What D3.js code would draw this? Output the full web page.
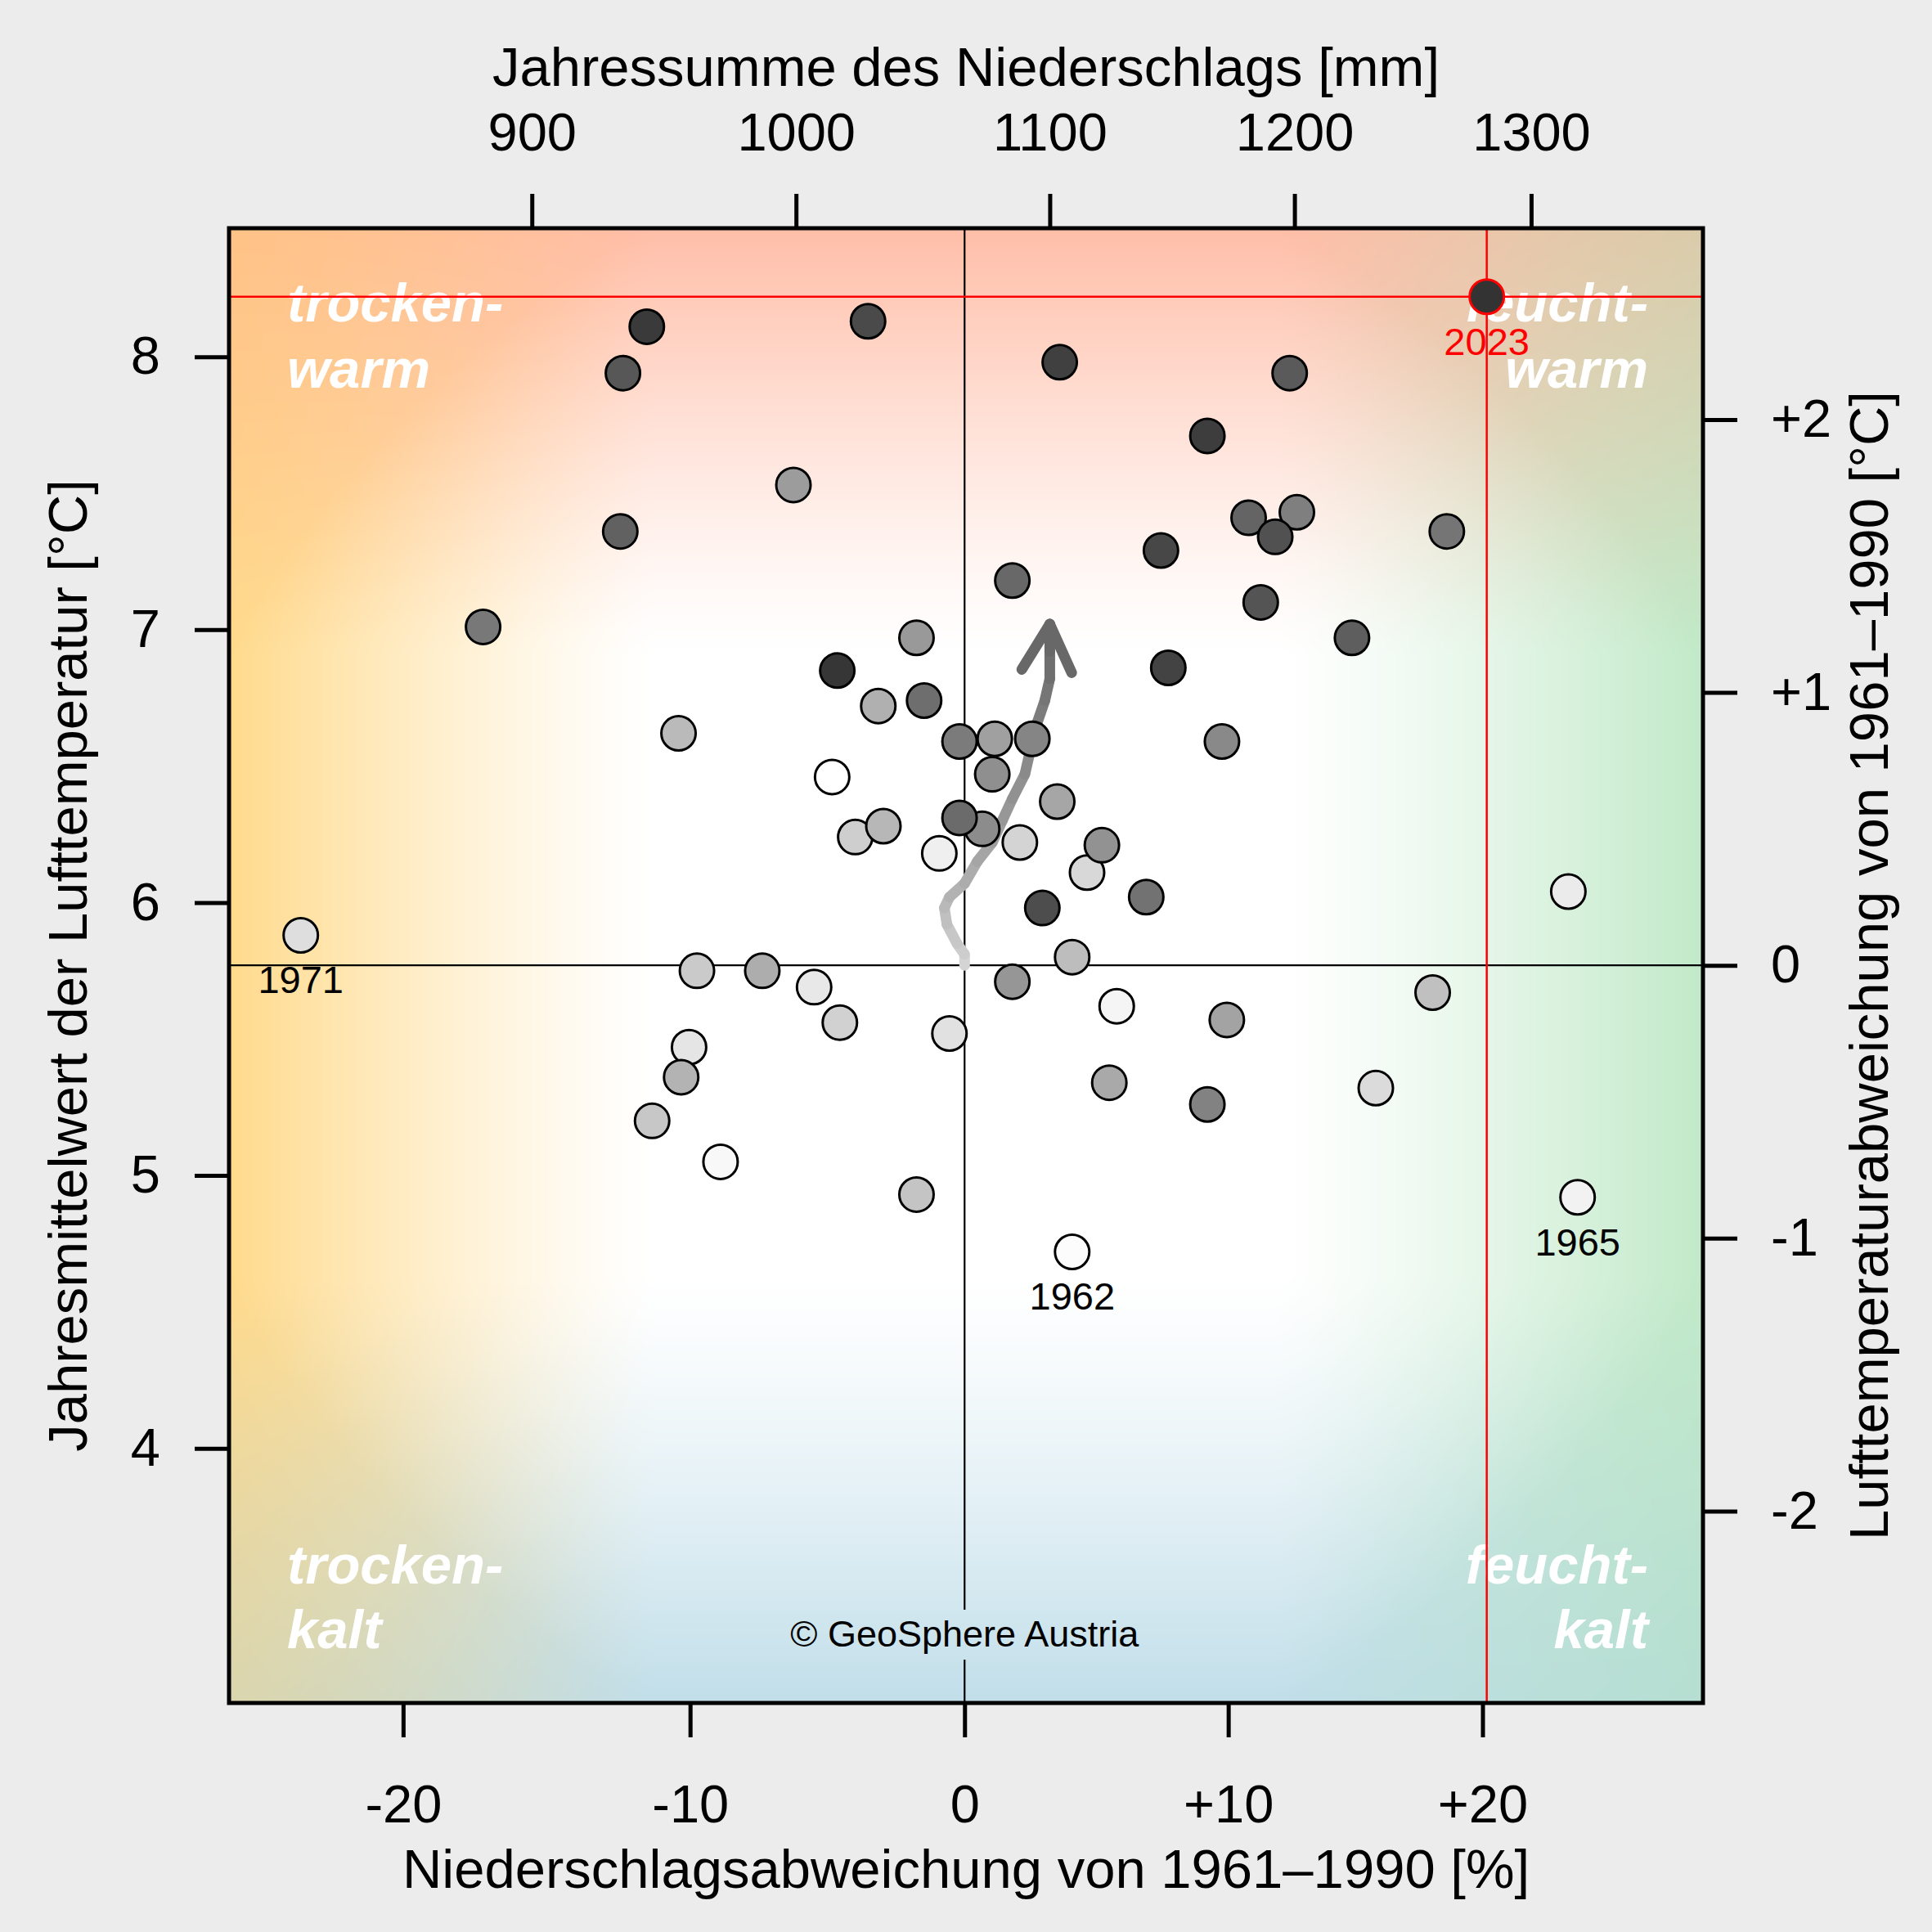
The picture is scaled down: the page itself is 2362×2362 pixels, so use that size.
<!DOCTYPE html>
<html>
<head>
<meta charset="utf-8">
<script src="https://cdn.jsdelivr.net/npm/d3@7"></script>
<style>
  body { margin: 0; background: #ececec; }
  svg { display: block; font-family: "Liberation Sans", Arial, Helvetica, sans-serif; }
</style>
</head>
<body>
<div id="chart"></div>
<script>
// annual means 1961-2023 (precipitation sum in mm, mean temperature in °C)
var years = d3.range(1961, 2024);
var precip = [1014, 1109, 971, 1127, 1320, 1056, 1316, 1007, 959, 1060,
              816, 1234, 1115, 1088, 1017, 1023, 962, 945, 1047, 1258,
              1109, 955, 1034, 956, 1032, 987, 1124, 1103, 1172, 1078,
              999, 1047, 1085, 1121, 1077, 1073, 1170, 1093, 1164, 1201,
              1064, 882, 1264, 1139, 1050, 1064, 1085, 1181, 933, 1224,
              1198, 934, 1186, 1192, 1097, 1028, 1145, 1148, 1104, 1164,
              943, 1016, 1281];
var temp = [6.46, 4.72, 5.05, 5.62, 4.92, 6.18, 6.04, 5.69, 5.47, 5.52,
            5.88, 5.32, 6.11, 6.22, 5.56, 6.24, 5.75, 5.20, 4.93, 5.67,
            5.80, 6.62, 6.28, 5.36, 6.72, 5.75, 5.34, 6.37, 5.57, 6.60,
            7.53, 6.97, 5.71, 6.21, 6.47, 6.27, 6.59, 6.60, 5.26, 7.43,
            6.59, 7.01, 7.36, 6.02, 6.74, 6.31, 7.18, 7.41, 7.36, 6.97,
            7.94, 7.94, 7.10, 7.34, 5.98, 8.13, 7.29, 6.86, 7.98, 7.71,
            8.11, 6.85, 8.22];

// path of the running mean (starts at the 1961-1990 mean)
var trendPrecip = [1066, 1066, 1063, 1059, 1058, 1060, 1066, 1071, 1077,
                   1081, 1085, 1090, 1092, 1095, 1098, 1100, 1100, 1100];
var trendTemp = [5.77, 5.81, 5.85, 5.92, 5.98, 6.02, 6.07, 6.15, 6.22,
                 6.30, 6.38, 6.47, 6.55, 6.66, 6.74, 6.82, 6.92, 7.02];

// 1961-1990 reference
var refPrecip = 1066, refTemp = 5.77;

var topTicks = [900, 1000, 1100, 1200, 1300];
var bottomTicks = [-20, -10, 0, 10, 20];
var leftTicks = [4, 5, 6, 7, 8];
var rightTicks = [-2, -1, 0, 1, 2];
var labelledYears = [1962, 1965, 1971];
var currentYear = 2023;

var W = 2362, H = 2362;
var margin = {top: 279, right: 280, bottom: 280, left: 280};
var x0 = margin.left, x1 = W - margin.right, y0 = margin.top, y1 = H - margin.bottom;

var x = d3.scalePow().exponent(0.6).domain([790.6, 1374.6]).range([x0, x1]);
var y = d3.scaleLinear().domain([3.067, 8.471]).range([y1, y0]);

var grey = d3.scaleLinear().domain([1961, 2023]).range(["#ffffff", "#333333"]);

var svg = d3.select("#chart").append("svg")
    .attr("width", W)
    .attr("height", H);

svg.append("rect").attr("width", W).attr("height", H).attr("fill", "#ececec");

// background: dry/wet left-right, warm/cold top-bottom
(function() {
  var cw = Math.round(x1 - x0), ch = Math.round(y1 - y0);
  var cx = x(refPrecip) - x0, cy = y(refTemp) - y0;
  var canvas = document.createElement("canvas");
  canvas.width = cw; canvas.height = ch;
  var ctx = canvas.getContext("2d");
  var img = ctx.createImageData(cw, ch);
  var dry = [0, 37, 115], wet = [62, 22, 55], warm = [0, 65, 87], cold = [62, 33, 22];
  function wgt(d) {
    var v = Math.max(0, Math.min(1, (d - 0.42) / 0.58));
    return Math.pow(v, 1.25);
  }
  for (var j = 0; j < ch; j++) {
    var dy = (j + 0.5 - cy) / (j < cy ? cy : ch - cy);
    var wy = wgt(Math.abs(dy));
    var cyc = dy < 0 ? warm : cold;
    for (var i = 0; i < cw; i++) {
      var dx = (i + 0.5 - cx) / (i < cx ? cx : cw - cx);
      var wx = wgt(Math.abs(dx));
      var cxc = dx < 0 ? dry : wet;
      var s = Math.pow(Math.max(1, wx + wy), 0.75);
      var k = (j * cw + i) * 4;
      for (var c = 0; c < 3; c++) {
        img.data[k + c] = 255 - (wx * cxc[c] + wy * cyc[c]) / s;
      }
      img.data[k + 3] = 255;
    }
  }
  ctx.putImageData(img, 0, 0);
  svg.append("image")
    .attr("x", x0).attr("y", y0)
    .attr("width", cw).attr("height", ch)
    .attr("preserveAspectRatio", "none")
    .attr("href", canvas.toDataURL());
})();

// quadrant labels
var quad = svg.append("g")
    .attr("fill", "#fff")
    .attr("font-size", 67)
    .attr("font-weight", "bold")
    .attr("font-style", "italic");
[["trocken-", x0 + 71, y0 + 114, "start"], ["warm", x0 + 71, y0 + 195, "start"],
 ["feucht-", x1 - 67, y0 + 114, "end"], ["warm", x1 - 67, y0 + 195, "end"],
 ["trocken-", x0 + 71, y1 - 146, "start"], ["kalt", x0 + 71, y1 - 67, "start"],
 ["feucht-", x1 - 67, y1 - 146, "end"], ["kalt", x1 - 67, y1 - 67, "end"]]
  .forEach(function(d) {
    quad.append("text").attr("x", d[1]).attr("y", d[2])
      .attr("text-anchor", d[3]).text(d[0]);
  });

// copyright
var copy = svg.append("text")
    .attr("x", x(refPrecip))
    .attr("y", y1 - 69)
    .attr("text-anchor", "middle")
    .attr("font-size", 45)
    .text("\u00a9 GeoSphere Austria");
var cb = copy.node().getBBox();

// reference lines
svg.append("line")
    .attr("x1", x0).attr("x2", x1)
    .attr("y1", y(refTemp)).attr("y2", y(refTemp))
    .attr("stroke", "#000").attr("stroke-width", 2.2);
svg.append("line")
    .attr("x1", x(refPrecip)).attr("x2", x(refPrecip))
    .attr("y1", y0).attr("y2", cb.y - 4)
    .attr("stroke", "#000").attr("stroke-width", 2.2);
svg.append("line")
    .attr("x1", x(refPrecip)).attr("x2", x(refPrecip))
    .attr("y1", cb.y + cb.height + 6).attr("y2", y1)
    .attr("stroke", "#000").attr("stroke-width", 2.2);

// current year lines
var iCur = years.indexOf(currentYear);
svg.append("line")
    .attr("x1", x0).attr("x2", x1)
    .attr("y1", y(temp[iCur])).attr("y2", y(temp[iCur]))
    .attr("stroke", "red").attr("stroke-width", 2.5);
svg.append("line")
    .attr("x1", x(precip[iCur])).attr("x2", x(precip[iCur]))
    .attr("y1", y0).attr("y2", y1)
    .attr("stroke", "red").attr("stroke-width", 2.5);

// trend arrow
var n = trendPrecip.length;
var arrowCol = d3.interpolateRgb("#d4d4d4", "#686868");
var arrow = svg.append("g")
    .attr("fill", "none")
    .attr("stroke-width", 13)
    .attr("stroke-linecap", "round")
    .attr("stroke-linejoin", "round");
for (var i = 0; i < n - 1; i++) {
  arrow.append("line")
    .attr("x1", x(trendPrecip[i])).attr("y1", y(trendTemp[i]))
    .attr("x2", x(trendPrecip[i + 1])).attr("y2", y(trendTemp[i + 1]))
    .attr("stroke", arrowCol(i / (n - 2)));
}
var tx = x(trendPrecip[n - 1]), ty = y(trendTemp[n - 1]);
var ang = Math.atan2(ty - y(trendTemp[n - 4]), tx - x(trendPrecip[n - 4]));
[-1, 1].forEach(function(sg) {
  var a = ang + Math.PI + sg * 28 * Math.PI / 180;
  arrow.append("line")
    .attr("x1", tx).attr("y1", ty)
    .attr("x2", tx + 65 * Math.cos(a)).attr("y2", ty + 65 * Math.sin(a))
    .attr("stroke", "#686868");
});

// yearly points
svg.selectAll(".dot")
  .data(years)
  .enter().append("circle")
    .attr("class", "dot")
    .attr("cx", function(d, i) { return x(precip[i]); })
    .attr("cy", function(d, i) { return y(temp[i]); })
    .attr("r", 21)
    .attr("fill", function(d) { return grey(d); })
    .attr("stroke", function(d) { return d === currentYear ? "red" : "#000"; })
    .attr("stroke-width", 3);

// year labels
labelledYears.concat([currentYear]).forEach(function(yr) {
  var i = years.indexOf(yr);
  svg.append("text")
    .attr("x", x(precip[i]))
    .attr("y", y(temp[i]) + 71)
    .attr("text-anchor", "middle")
    .attr("font-size", 47)
    .attr("fill", yr === currentYear ? "red" : "#000")
    .text(yr);
});

// frame
svg.append("rect")
    .attr("x", x0).attr("y", y0)
    .attr("width", x1 - x0).attr("height", y1 - y0)
    .attr("fill", "none").attr("stroke", "#000").attr("stroke-width", 5);

// axes
function styleAxis(g) {
  g.select(".domain").remove();
  g.selectAll(".tick line").attr("stroke", "#000").attr("stroke-width", 5);
  g.selectAll(".tick text").attr("fill", "#000");
  g.attr("font-size", 65).attr("font-family", null);
}

svg.append("g")
    .attr("transform", "translate(0," + y0 + ")")
    .call(d3.axisTop(x).tickValues(topTicks).tickSize(42).tickPadding(53).tickFormat(d3.format("d")))
    .call(styleAxis);

svg.append("g")
    .attr("transform", "translate(0," + y1 + ")")
    .call(d3.axisBottom(x)
      .tickValues(bottomTicks.map(function(p) { return refPrecip * (1 + p / 100); }))
      .tickSize(42).tickPadding(58)
      .tickFormat(function(d, i) { var p = bottomTicks[i]; return p > 0 ? "+" + p : String(p); }))
    .call(styleAxis);

svg.append("g")
    .attr("transform", "translate(" + x0 + ",0)")
    .call(d3.axisLeft(y).tickValues(leftTicks).tickSize(42).tickPadding(42).tickFormat(d3.format("d")))
    .call(styleAxis);

svg.append("g")
    .attr("transform", "translate(" + x1 + ",0)")
    .call(d3.axisRight(y)
      .tickValues(rightTicks.map(function(t) { return refTemp + t; }))
      .tickSize(42).tickPadding(41)
      .tickFormat(function(d, i) { var t = rightTicks[i]; return t > 0 ? "+" + t : String(t); }))
    .call(styleAxis);

// axis titles
svg.append("text")
    .attr("x", (x0 + x1) / 2).attr("y", 105)
    .attr("text-anchor", "middle").attr("font-size", 67)
    .text("Jahressumme des Niederschlags [mm]");
svg.append("text")
    .attr("x", (x0 + x1) / 2).attr("y", 2308)
    .attr("text-anchor", "middle").attr("font-size", 67)
    .text("Niederschlagsabweichung von 1961\u20131990 [%]");
svg.append("text")
    .attr("transform", "translate(106," + (y0 + y1) / 2 + ") rotate(-90)")
    .attr("text-anchor", "middle").attr("font-size", 67)
    .text("Jahresmittelwert der Lufttemperatur [\u00b0C]");
svg.append("text")
    .attr("transform", "translate(2308," + (y0 + y1) / 2 + ") rotate(-90)")
    .attr("text-anchor", "middle").attr("font-size", 67)
    .text("Lufttemperaturabweichung von 1961\u20131990 [\u00b0C]");
</script>
</body>
</html>
